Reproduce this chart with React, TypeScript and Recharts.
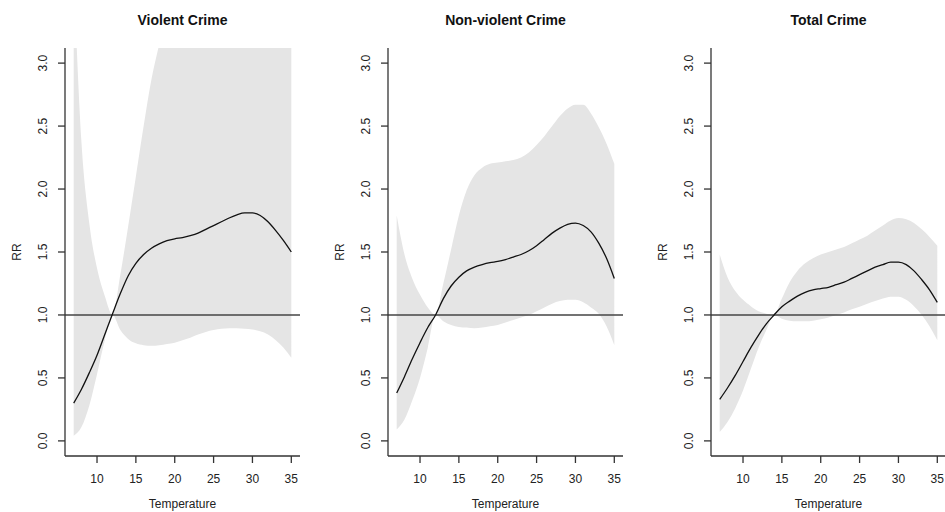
import React from "react";
import { ComposedChart, Area, Line, XAxis, YAxis, ReferenceLine } from "recharts";

const temps = [7, 8, 9, 10, 11, 12, 13, 14, 15, 16, 17, 18, 19, 20, 21, 22, 23, 24, 25, 26, 27, 28, 29, 30, 31, 32, 33, 34, 35];
const xTicks = [10, 15, 20, 25, 30, 35];
const yTicks = [0, 0.5, 1, 1.5, 2, 2.5, 3];

const violentRR = [0.3, 0.41, 0.54, 0.68, 0.845, 1.01, 1.17, 1.31, 1.41, 1.48, 1.53, 1.565, 1.59, 1.605, 1.615, 1.63, 1.65, 1.68, 1.71, 1.74, 1.77, 1.795, 1.81, 1.81, 1.79, 1.74, 1.67, 1.59, 1.5];
const violentLo = [0.04, 0.11, 0.28, 0.53, 0.8, 1.0, 0.88, 0.81, 0.775, 0.76, 0.755, 0.76, 0.77, 0.78, 0.8, 0.82, 0.845, 0.865, 0.88, 0.89, 0.895, 0.895, 0.89, 0.885, 0.87, 0.845, 0.8, 0.74, 0.66];
const violentHi = [3.7, 2.37, 1.73, 1.37, 1.15, 1.0, 1.32, 1.7, 2.1, 2.5, 2.87, 3.15, 3.45, 3.7, 3.9, 4.05, 4.2, 4.3, 4.4, 4.5, 4.6, 4.7, 4.8, 4.9, 5.0, 5.1, 5.3, 5.5, 5.8];

const nonViolentRR = [0.38, 0.51, 0.65, 0.78, 0.9, 1.0, 1.13, 1.23, 1.3, 1.35, 1.38, 1.4, 1.415, 1.425, 1.44, 1.46, 1.48, 1.51, 1.55, 1.6, 1.65, 1.69, 1.72, 1.73, 1.71, 1.66, 1.57, 1.45, 1.29];
const nonViolentLo = [0.09, 0.17, 0.32, 0.5, 0.74, 1.0, 0.95, 0.92, 0.905, 0.9, 0.895, 0.9, 0.91, 0.92, 0.94, 0.96, 0.98, 1.0, 1.03, 1.06, 1.09, 1.11, 1.12, 1.12, 1.1, 1.06, 1.01, 0.91, 0.76];
const nonViolentHi = [1.79, 1.48, 1.29, 1.16, 1.06, 1.0, 1.25, 1.52, 1.79, 1.99, 2.11, 2.17, 2.2, 2.21, 2.22, 2.23, 2.25, 2.29, 2.35, 2.42, 2.5, 2.58, 2.64, 2.67, 2.67, 2.6, 2.49, 2.36, 2.2];

const totalRR = [0.33, 0.42, 0.52, 0.63, 0.74, 0.84, 0.93, 1.0, 1.065, 1.11, 1.15, 1.18, 1.2, 1.21, 1.22, 1.24, 1.26, 1.29, 1.32, 1.35, 1.38, 1.4, 1.42, 1.42, 1.4, 1.35, 1.28, 1.2, 1.1];
const totalLo = [0.07, 0.15, 0.26, 0.4, 0.57, 0.74, 0.88, 1.0, 0.97, 0.955, 0.95, 0.95, 0.955, 0.965, 0.98, 1.0, 1.02, 1.045, 1.065, 1.09, 1.11, 1.13, 1.145, 1.145, 1.12, 1.07, 1.0, 0.91, 0.8];
const totalHi = [1.48, 1.3, 1.19, 1.12, 1.07, 1.03, 1.01, 1.0, 1.13, 1.26, 1.35, 1.41, 1.45, 1.48, 1.5, 1.52, 1.54, 1.57, 1.6, 1.63, 1.67, 1.71, 1.75, 1.77, 1.76, 1.73, 1.68, 1.62, 1.55];

const FONT = '"Liberation Sans", Arial, Helvetica, sans-serif';
const PANEL_W = 323;
const H = 512;
const AXIS_W = 65;
const PLOT_W = 235;
const TOP = 48;
const AXIS_H = 56;
const INK = "#222";

const XTick = ({ x, payload }: any) => (
  <text x={x} y={483} textAnchor="middle" fontSize={12} fill={INK} fontFamily={FONT}>
    {payload.value}
  </text>
);

const YTick = ({ y, payload }: any) => (
  <text
    x={43}
    y={y}
    dy="0.35em"
    transform={`rotate(-90 43 ${y})`}
    textAnchor="middle"
    fontSize={12}
    fill={INK}
    fontFamily={FONT}
  >
    {Number(payload.value).toFixed(1)}
  </text>
);

function Panel({ title, rr, lo, hi, left }: { title: string; rr: number[]; lo: number[]; hi: number[]; left: number }) {
  const data = temps.map((t, i) => ({ t, rr: rr[i], band: [lo[i], hi[i]] }));
  const cx = AXIS_W + PLOT_W / 2;
  const cy = TOP + (H - TOP - AXIS_H) / 2;

  return (
    <div style={{ position: "absolute", left, top: 0, width: PANEL_W, height: H }}>
      <ComposedChart
        width={PANEL_W}
        height={H}
        data={data}
        margin={{ top: TOP, right: PANEL_W - AXIS_W - PLOT_W, bottom: 0, left: 0 }}
      >
        <XAxis
          type="number"
          dataKey="t"
          domain={[5.88, 36.12]}
          allowDataOverflow
          ticks={xTicks}
          tickSize={7}
          height={AXIS_H}
          stroke="#333"
          strokeWidth={1.3}
          tick={<XTick />}
          label={{
            content: () => (
              <text x={cx} y={508} textAnchor="middle" fontSize={12} fill={INK} fontFamily={FONT}>
                Temperature
              </text>
            ),
          }}
        />
        <YAxis
          type="number"
          domain={[-0.12, 3.12]}
          allowDataOverflow
          ticks={yTicks}
          tickSize={7}
          width={AXIS_W}
          stroke="#333"
          strokeWidth={1.3}
          tick={<YTick />}
          label={{
            content: () => (
              <text
                x={16.5}
                y={cy}
                dy="0.35em"
                transform={`rotate(-90 16.5 ${cy})`}
                textAnchor="middle"
                fontSize={12}
                fill={INK}
                fontFamily={FONT}
              >
                RR
              </text>
            ),
          }}
        />
        <Area
          dataKey="band"
          type="monotone"
          stroke="none"
          fill="#e5e5e5"
          fillOpacity={1}
          isAnimationActive={false}
        />
        <ReferenceLine y={1} stroke="#444" strokeWidth={1.4} />
        <Line
          dataKey="rr"
          type="monotone"
          stroke="#111"
          strokeWidth={1.3}
          dot={false}
          activeDot={false}
          isAnimationActive={false}
        />
      </ComposedChart>
      <svg width={PANEL_W} height={40} style={{ position: "absolute", left: 0, top: 0 }}>
        <text x={cx} y={25} textAnchor="middle" fontSize={14} fontWeight="bold" fill="#111" fontFamily={FONT}>
          {title}
        </text>
      </svg>
    </div>
  );
}

export default function App() {
  return (
    <div
      style={{
        position: "absolute",
        left: 0,
        top: 0,
        width: 945,
        height: H,
        overflow: "hidden",
        background: "#fff",
        fontFamily: FONT,
      }}
    >
      <Panel title="Violent Crime" rr={violentRR} lo={violentLo} hi={violentHi} left={0} />
      <Panel title="Non-violent Crime" rr={nonViolentRR} lo={nonViolentLo} hi={nonViolentHi} left={PANEL_W} />
      <Panel title="Total Crime" rr={totalRR} lo={totalLo} hi={totalHi} left={PANEL_W * 2} />
    </div>
  );
}
